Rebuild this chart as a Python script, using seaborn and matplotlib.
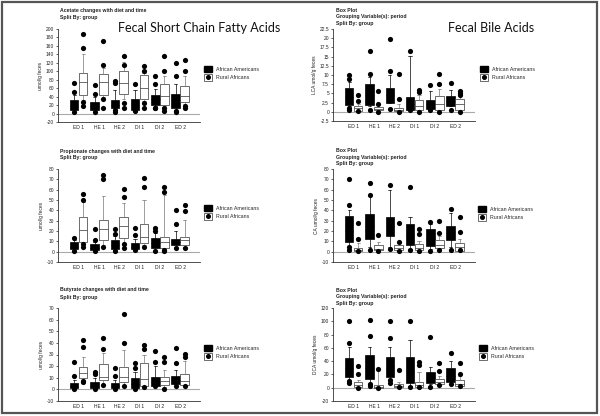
import matplotlib
matplotlib.use("Agg")
import matplotlib.pyplot as plt
from matplotlib.patches import Patch, Rectangle
from matplotlib.lines import Line2D
import numpy as np
import pandas as pd
import seaborn as sns

periods = ["ED 1", "HE 1", "HE 2", "DI 1", "DI 2", "ED 2"]
groups = ["African Americans", "Rural Africans"]

# box summaries per period: [whisker low, q1, median, q3, whisker high]
acetate_aa = [[5, 9, 18, 32, 45], [5, 9, 17, 28, 40], [6, 12, 20, 32, 56],
              [6, 9, 20, 34, 55], [18, 21, 35, 45, 59], [8, 14, 31, 47, 70]]
acetate_aa_out = [[73, 52, 3], [68, 46, 3], [76, 72, 8, 4], [69, 5], [90, 69, 14, 12], [120, 88, 6, 3]]
acetate_ra = [[32, 44, 74, 95, 140], [40, 45, 74, 94, 108], [35, 47, 72, 100, 122],
              [30, 34, 61, 92, 96], [18, 20, 42, 69, 90], [22, 27, 42, 66, 90]]
acetate_ra_out = [[188, 155, 27, 17], [171, 115, 34, 12], [135, 115, 26, 14],
                  [112, 100, 24, 14], [136, 100, 13, 5], [127, 100, 17, 12]]

propionate_aa = [[2, 3, 5, 9, 11], [1, 2, 4, 7, 9], [2, 3, 6, 11, 15],
                 [2, 2.6, 5, 8.4, 12], [2, 3.6, 8, 13, 18], [5, 6.8, 9, 12.7, 20]]
propionate_aa_out = [[13, 0.5], [22, 11, 0.5], [22, 17, 1], [23, 16, 2], [23, 20, 1], [40, 27, 3.5]]
propionate_ra = [[6, 9.4, 21, 34, 48], [6, 11.7, 22, 30.5, 54], [6, 13.6, 24.7, 34, 47],
                 [6, 8, 14, 27, 50], [2, 4, 9, 14, 55], [5, 6.8, 11.7, 14, 30.5]]
propionate_ra_out = [[56, 50, 7, 4.5], [74, 70, 4.5], [61, 53, 7.5, 3.5],
                     [71, 63, 4.5], [63, 58, 1.5, 0.6], [45, 39, 4]]

butyrate_aa = [[1, 1.5, 3, 5.6, 8], [1, 1.5, 3, 6.5, 10], [1, 1.5, 3, 5.6, 8],
               [1.2, 1.6, 5, 10.2, 15], [2.7, 3, 6.5, 10.8, 20], [4.2, 5, 8, 11.4, 16.6]]
butyrate_aa_out = [[23.5, 11.4, 0.3], [14.6, 12.8, 0.3], [18.6, 11.4, 0.3],
                   [23, 18, 0.5], [33, 23.5, 2.5], [36, 22.4, 3.3]]
butyrate_ra = [[8, 10, 13.7, 19, 28], [5, 8, 10.8, 22, 31.6], [4, 6.5, 10.8, 19, 34],
               [2.7, 3, 9, 23, 30], [2, 3.6, 7, 10.8, 16.6], [3.6, 4, 7.3, 12.8, 24]]
butyrate_ra_out = [[42.6, 36.8, 7.3, 6], [44.6, 35, 3.9], [64.8, 39.7, 3],
                   [38, 35, 2], [27.5, 23.5, 0.4], [30.5, 28.2, 3]]

lca_aa = [[1.5, 1.8, 4, 6.6, 8], [1.5, 1.8, 4.5, 7.5, 9.5], [2.4, 2.5, 4.5, 6.6, 10],
          [0.4, 0.5, 2, 3.9, 15.1], [0.6, 0.7, 2, 3.3, 5.7], [1.5, 1.6, 3, 4.3, 6]]
lca_aa_out = [[10, 8.9, 0.9, 0.4], [16.6, 10.4, 0.4], [19.8, 11, 0.7], [16.6, 0.4], [7.4, 0.4], [7.7, 0.4]]
lca_ra = [[0.1, 0.2, 0.9, 1.5, 2], [0.3, 0.4, 0.8, 1.3, 2], [0.1, 0.2, 0.6, 1.1, 2],
          [0.3, 0.4, 1.5, 3.3, 4.5], [0.3, 0.4, 2.2, 4.3, 6.3], [0.3, 0.4, 2, 3.6, 4.2]]
lca_ra_out = [[4.5, 3, 0.1], [5.7, 2.2, 0], [10.2, 3.6, 0], [6, 5.4, 0], [10.4, 7.5, 0], [5.7, 5, 4.5, 0]]

ca_aa = [[4.5, 9.4, 20, 35, 40], [5, 12.6, 25, 36, 55], [5, 14.9, 25, 33.7, 59.5],
         [3, 6, 15, 27, 33.7], [3, 5.2, 12, 21.7, 27], [5, 11, 18, 24.6, 37.5]]
ca_aa_out = [[70, 45, 4.5, 2], [66, 55, 2], [65, 3], [63, 2], [28.8, 1], [41, 2]]
ca_ra = [[0.5, 0.6, 2, 3.9, 8], [0.5, 1.3, 3, 6, 9], [1, 2, 4, 6, 8],
         [1, 1.3, 3.5, 7, 10], [2, 3.9, 6.8, 11, 15], [0.6, 0.6, 4.5, 8.4, 12]]
ca_ra_out = [[28, 12.6, 0.5], [16.5, 0.3], [28, 9.4, 1], [22, 16.8, 0.8], [30, 18.4, 1.5], [33.7, 19, 1.5]]

dca_aa = [[10, 16, 30, 44, 62], [5, 13, 30, 49, 62], [10, 16.4, 30, 46.7, 62],
          [2, 7.8, 25, 46.7, 72], [5, 7.3, 15, 23, 31.5], [6, 8.8, 18, 29, 40.5]]
dca_aa_out = [[100, 68, 10, 7], [102, 78, 5, 2], [100.7, 74.5, 11, 7], [100, 0.5], [77, 1.2], [52.7, 6]]
dca_ra = [[1.2, 1.5, 4, 8, 12], [0.2, 0.3, 1.5, 4.7, 26.5], [0.5, 0.5, 2, 5.2, 8],
          [1.2, 1.5, 4, 8.8, 24], [3.7, 5.2, 9, 12.8, 18], [2, 2.2, 6, 11, 18]]
dca_ra_out = [[32.5, 20, 0.2], [27.5, 0], [26.5, 1.2], [39, 34, 1.2], [36.5, 25.5, 3.7], [37.5, 20, 2]]

W, H = 600, 416
OFF = 0.22

sns.set_style("white")
plt.rcParams["font.family"] = ["Liberation Sans", "DejaVu Sans"]


def fx(x):
    return x / W


def fy(y):
    return 1 - y / H


def to_stats(rows):
    return [dict(whislo=r[0], q1=r[1], med=r[2], q3=r[3], whishi=r[4], fliers=[]) for r in rows]


def draw_panel(fig, box, aa, aa_out, ra, ra_out, ylim, ystep, ylabel):
    left, top, right, bottom = box
    ax = fig.add_axes([fx(left), fy(bottom), fx(right - left), (bottom - top) / H])
    pos = np.arange(len(periods))
    ax.axhline(0, color="#aaaaaa", lw=0.8, zorder=0)
    ax.bxp(to_stats(aa), positions=pos - OFF, widths=0.42, patch_artist=True,
           showfliers=False, capwidths=0.16,
           boxprops=dict(facecolor="black", edgecolor="black", lw=0.5),
           medianprops=dict(color="black", lw=0.5),
           whiskerprops=dict(color="black", lw=0.5),
           capprops=dict(color="black", lw=0.5))
    ax.bxp(to_stats(ra), positions=pos + OFF, widths=0.42, patch_artist=True,
           showfliers=False, capwidths=0.16,
           boxprops=dict(facecolor="white", edgecolor="#333333", lw=0.5),
           medianprops=dict(color="#333333", lw=0.5),
           whiskerprops=dict(color="#777777", lw=0.5),
           capprops=dict(color="#777777", lw=0.5))

    # outlier dots for both groups, dodged like the boxes
    rows = []
    for i, p in enumerate(periods):
        for v in aa_out[i]:
            rows.append(dict(x=i - OFF, value=v, group=groups[0]))
        for v in ra_out[i]:
            rows.append(dict(x=i + OFF, value=v, group=groups[1]))
    out = pd.DataFrame(rows)
    sns.scatterplot(data=out, x="x", y="value", color="black", s=14, linewidth=0,
                    legend=False, ax=ax, zorder=4)

    ax.set_xlim(-1.02, 5.98)
    ax.set_ylim(*ylim)
    ticks = np.arange(ylim[0], ylim[1] + ystep / 2, ystep)
    ax.set_yticks(ticks)
    ax.set_yticklabels([f"{t:g}" for t in ticks])
    ax.set_xticks(pos)
    ax.set_xticklabels(periods)
    ax.tick_params(axis="x", length=0, pad=2.5, labelsize=3.6, colors="#222222")
    ax.tick_params(axis="y", length=1.8, width=0.5, pad=1, labelsize=3.5,
                   colors="#222222", left=True)
    ax.set_xlabel("")
    ax.set_ylabel(ylabel, fontsize=3.5, labelpad=2, color="#222222")
    for s in ["top", "right"]:
        ax.spines[s].set_visible(False)
    for s in ["left", "bottom"]:
        ax.spines[s].set_color("#333333")
        ax.spines[s].set_linewidth(0.6)
    return ax


def add_legend(fig, x, y):
    handles = [Patch(facecolor="black", edgecolor="black"),
               (Patch(facecolor="white", edgecolor="#333333", lw=0.5),
                Line2D([], [], marker="o", color="black", ls="", markersize=2.6))]
    fig.legend(handles, groups, loc="upper left", bbox_to_anchor=(fx(x), fy(y)),
               frameon=False, fontsize=3.8, handlelength=1.5, handleheight=1.5,
               labelspacing=0.35, handletextpad=0.8, borderpad=0, borderaxespad=0)


def add_titles(fig, x, ys, lines):
    for yy, t in zip(ys, lines):
        fig.text(fx(x), fy(yy), t, fontsize=3.7, fontweight="bold", va="center",
                 ha="left", color="#222222")


fig = plt.figure(figsize=(6, 4.16), dpi=100)

left_x = (58, 200)
right_x = (333, 475)

draw_panel(fig, (left_x[0], 29, left_x[1], 122), acetate_aa, acetate_aa_out, acetate_ra,
           acetate_ra_out, (-20, 200), 20, "umol/g feces")
draw_panel(fig, (left_x[0], 169, left_x[1], 262), propionate_aa, propionate_aa_out,
           propionate_ra, propionate_ra_out, (-10, 80), 10, "umol/g feces")
draw_panel(fig, (left_x[0], 308, left_x[1], 401), butyrate_aa, butyrate_aa_out,
           butyrate_ra, butyrate_ra_out, (-10, 70), 10, "umol/g feces")
draw_panel(fig, (right_x[0], 29, right_x[1], 121), lca_aa, lca_aa_out, lca_ra, lca_ra_out,
           (-2.5, 22.5), 2.5, "LCA umol/g feces")
draw_panel(fig, (right_x[0], 169, right_x[1], 262), ca_aa, ca_aa_out, ca_ra, ca_ra_out,
           (-10, 80), 10, "CA umol/g feces")
draw_panel(fig, (right_x[0], 308, right_x[1], 401), dca_aa, dca_aa_out, dca_ra, dca_ra_out,
           (-20, 120), 20, "DCA umol/g feces")

add_titles(fig, 60, [10.7, 17.7], ["Acetate changes with diet and time", "Split By: group"])
add_titles(fig, 60, [151, 158], ["Propionate changes with diet and time", "Split By: group"])
add_titles(fig, 60, [290, 297], ["Butyrate changes with diet and time", "Split By: group"])
box_lines = ["Box Plot", "Grouping Variable(s): period", "Split By: group"]
add_titles(fig, 336, [10, 16.7, 24], box_lines)
add_titles(fig, 336, [150, 157, 164], box_lines)
add_titles(fig, 336, [290, 296.7, 303.4], box_lines)

fig.text(fx(118), fy(28), "Fecal Short Chain Fatty Acids", fontsize=9, family="Lato",
         va="center", ha="left", color="#111111")
fig.text(fx(448), fy(28), "Fecal Bile Acids", fontsize=9, family="Lato",
         va="center", ha="left", color="#111111")

add_legend(fig, 204, 66)
add_legend(fig, 204, 205)
add_legend(fig, 204, 345)
add_legend(fig, 480, 66)
add_legend(fig, 478, 206)
add_legend(fig, 479, 345)

fig.patches.append(Rectangle((fx(1.5), fy(413)), fx(595.5), 411.5 / H, transform=fig.transFigure,
                             fill=False, edgecolor="#555555", lw=1.6))

fig.savefig("out.png", dpi=100)
